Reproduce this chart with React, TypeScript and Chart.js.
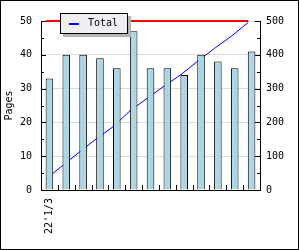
import React, { useEffect, useRef } from "react";
import { Chart, registerables } from "chart.js";

Chart.register(...registerables);

const categories = ["22'1/3", "", "", "", "", "", "", "", "", "", "", "", ""];
const pages = [33, 40, 40, 39, 36, 47, 36, 36, 34, 40, 38, 36, 41];
const totals = [33, 73, 113, 152, 188, 235, 271, 307, 341, 381, 419, 455, 496];
const limit = [50, 50, 50, 50, 50, 50, 50, 50, 50, 50, 50, 50, 50];
const leftRange = [0, 50];
const rightRange = [0, 500];
const leftStep = 10;
const rightStep = 100;
const yTitle = "Pages";
const totalLabel = "Total";

const LINE_SHIFT = -0.2;
const FONT = { family: "'DejaVu Sans Mono', monospace", size: 10 };

const framePlugin = {
  id: "frame",
  beforeDraw(chart: any) {
    const { ctx, width, height } = chart;
    ctx.save();
    ctx.fillStyle = "#ffffff";
    ctx.fillRect(0, 0, width, height);
    ctx.restore();
  },
  afterDatasetsDraw(chart: any) {
    const { ctx, chartArea } = chart;
    const meta = chart.getDatasetMeta(0);
    ctx.save();
    ctx.fillStyle = "rgba(215,150,150,0.55)";
    meta.data.forEach((el: any) => {
      const x = Math.round(el.x);
      for (let y = Math.round(el.y) + 3; y < el.base - 1; y += 3) {
        ctx.fillRect(x, y, 1, 1);
      }
    });
    ctx.restore();

    const y = chart.scales.y;
    const y1 = chart.scales.y1;
    ctx.save();
    ctx.strokeStyle = "#000";
    ctx.lineWidth = 1;
    ctx.beginPath();
    for (let v = leftRange[0]; v <= leftRange[1]; v += leftStep / 2) {
      const py = Math.round(y.getPixelForValue(v)) + 0.5;
      const len = v % leftStep === 0 ? 5 : 3;
      ctx.moveTo(chartArea.left, py);
      ctx.lineTo(chartArea.left + len, py);
    }
    for (let v = rightRange[0]; v <= rightRange[1]; v += rightStep / 2) {
      const py = Math.round(y1.getPixelForValue(v)) + 0.5;
      const len = v % rightStep === 0 ? 5 : 3;
      ctx.moveTo(chartArea.right, py);
      ctx.lineTo(chartArea.right - len, py);
    }
    const n = categories.length;
    const w = (chartArea.right - chartArea.left) / n;
    for (let k = 1; k < n; k++) {
      const px = Math.round(chartArea.left + k * w) + 0.5;
      ctx.moveTo(px, chartArea.bottom);
      ctx.lineTo(px, chartArea.bottom - 5);
    }
    ctx.stroke();
    ctx.restore();
  },
  afterDraw(chart: any) {
    const { ctx, width, height } = chart;
    ctx.save();
    const lx = 60, ly = 13, lw = 68, lh = 21;
    ctx.fillStyle = "#b4b4b4";
    ctx.fillRect(lx + 3, ly + 3, lw, lh);
    ctx.fillStyle = "#efeef3";
    ctx.fillRect(lx, ly, lw, lh);
    ctx.strokeStyle = "#000";
    ctx.lineWidth = 1;
    ctx.strokeRect(lx + 0.5, ly + 0.5, lw - 1, lh - 1);
    ctx.strokeStyle = "#0000ff";
    ctx.lineWidth = 2;
    ctx.beginPath();
    ctx.moveTo(69, 24);
    ctx.lineTo(79, 24);
    ctx.stroke();
    ctx.fillStyle = "#000";
    ctx.font = `${FONT.size}px ${FONT.family}`;
    ctx.textBaseline = "middle";
    ctx.textAlign = "left";
    ctx.fillText(chart.data.datasets[1].label, 88, 23.5);
    ctx.strokeStyle = "#000";
    ctx.lineWidth = 1;
    ctx.strokeRect(0.5, 0.5, width - 2, height - 1);
    ctx.restore();
  },
};

export default function App() {
  const ref = useRef<HTMLCanvasElement>(null);
  useEffect(() => {
    if (!ref.current) return;
    const chart = new Chart(ref.current, {
      type: "bar",
      data: {
        labels: categories,
        datasets: [
          {
            type: "bar",
            label: yTitle,
            data: pages,
            backgroundColor: "#add8e6",
            borderColor: "#000",
            borderWidth: 1,
            barPercentage: 0.45,
            categoryPercentage: 1,
            grouped: false,
            xAxisID: "x",
            yAxisID: "y",
            order: 0,
          },
          {
            type: "line",
            label: totalLabel,
            data: totals.map((v, i) => ({ x: i + LINE_SHIFT, y: v })),
            borderColor: "#0000ff",
            backgroundColor: "#0000ff",
            borderWidth: 1,
            pointRadius: 0,
            tension: 0,
            fill: false,
            clip: false,
            xAxisID: "xl",
            yAxisID: "y1",
            order: 2,
          },
          {
            type: "line",
            label: "limit",
            data: limit.map((v, i) => ({ x: i + LINE_SHIFT, y: v })),
            borderColor: "#ff0000",
            backgroundColor: "#ff0000",
            borderWidth: 2,
            pointRadius: 0,
            fill: false,
            clip: false,
            xAxisID: "xl",
            yAxisID: "y",
            order: 1,
          },
        ] as any,
      },
      options: {
        animation: false,
        responsive: false,
        devicePixelRatio: 1,
        layout: { padding: { top: 21, left: 0, right: 0, bottom: 0 } },
        plugins: { legend: { display: false }, tooltip: { enabled: false } },
        scales: {
          x: {
            type: "category",
            offset: true,
            grid: { display: false, drawTicks: false },
            border: { display: true, color: "#000" },
            ticks: {
              autoSkip: false,
              minRotation: 90,
              maxRotation: 90,
              padding: 8,
              color: "#000",
              font: FONT,
            },
            afterFit: (s: any) => {
              s.height = 60;
            },
          },
          xl: {
            type: "linear",
            axis: "x",
            position: "bottom",
            display: false,
            offset: false,
            grid: { offset: false },
            min: -0.5,
            max: categories.length - 0.5,
          },
          y: {
            position: "left",
            min: leftRange[0],
            max: leftRange[1],
            ticks: { stepSize: leftStep, padding: 9, color: "#000", font: FONT },
            grid: { color: "#dcdcdc", drawTicks: false },
            border: { display: true, color: "#000" },
            title: {
              display: true,
              text: yTitle,
              color: "#000",
              font: FONT,
              padding: { top: 3, bottom: 0 },
            },
            afterFit: (s: any) => {
              s.width = 41;
            },
          },
          y1: {
            position: "right",
            min: rightRange[0],
            max: rightRange[1],
            ticks: { stepSize: rightStep, padding: 6, color: "#000", font: FONT },
            grid: { display: false, drawTicks: false },
            border: { display: true, color: "#000" },
            afterFit: (s: any) => {
              s.width = 40;
            },
          },
        },
      } as any,
      plugins: [framePlugin],
    });
    return () => chart.destroy();
  }, []);
  return (
    <div style={{ position: "absolute", left: 0, top: 0, width: 300, height: 250 }}>
      <canvas ref={ref} width={300} height={250} style={{ display: "block" }} />
    </div>
  );
}
